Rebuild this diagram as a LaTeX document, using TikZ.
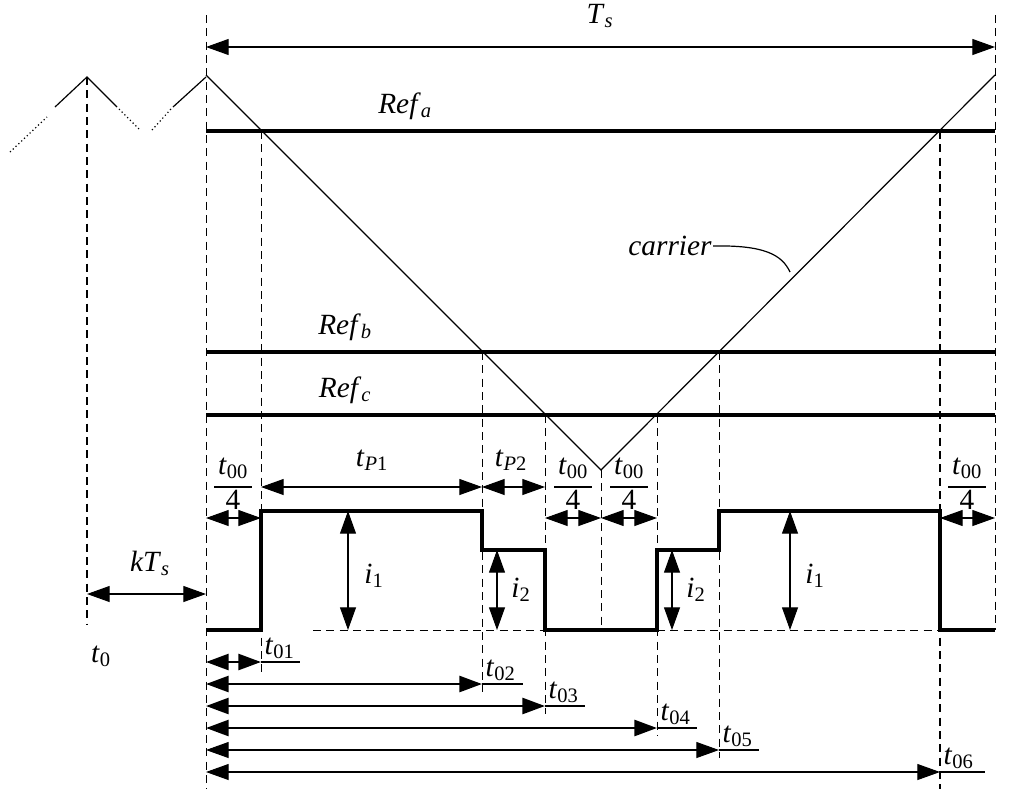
\documentclass[tikz,border=0pt]{standalone}
\usepackage{fontspec}
\setmainfont{Liberation Serif}
\usetikzlibrary{arrows.meta}
\newcommand\tv[2]{\textit{#1}\textsubscript{#2}}
\begin{document}
\begin{tikzpicture}[x={(0.75pt,0)},y={(0,-0.75pt)},
  lab/.style={font=\fontsize{22}{26}\selectfont,inner sep=1pt},
  dsh/.style={dashed,dash pattern=on 6pt off 4pt,line width=0.6pt},
  ref/.style={line width=3pt},
  wave/.style={line width=3.6pt},
  dim/.style={line width=0.8pt,{Triangle[length=17pt,width=12pt]}-{Triangle[length=17pt,width=12pt]}},
  dimb/.style={dim,line width=2pt},
  thin/.style={line width=0.9pt},
  frq/.pic={\node[lab] at (0,-19) {\tv{t}{00}}; \draw[line width=1pt] (-19,0) -- (19,0); \node[lab] at (0,13) {4};}]
\useasboundingbox (0,0) rectangle (1016,789);
% dashed verticals
\draw[dsh] (206,15) -- (206,789);
\draw[dsh] (995,15) -- (995,630);
\draw[dsh,line width=1.4pt] (87,77) -- (87,625);
\draw[dsh] (261,131) -- (261,672);
\draw[dsh] (482,352) -- (482,692);
\draw[dsh] (545,415) -- (545,714);
\draw[dsh] (601,470) -- (601,630);
\draw[dsh] (657,415) -- (657,736);
\draw[dsh] (719,352) -- (719,758);
\draw[dsh,line width=1.4pt] (940,131) -- (940,789);
% carrier
\coordinate (pk) at (206,75); \coordinate (bt) at (601,470); \coordinate (pk2) at (995,75);
\draw[thin] (pk) -- (bt) -- (pk2);
\draw[thin] (55,107) -- (87,77) -- (117,107);
\draw[thin] (173,107) -- (206,77);
\draw[thin,dotted] (10,152) -- (47,117);
\draw[thin,dotted] (119,109) -- (140,130);
\draw[thin,dotted] (152,130) -- (171,109);
% refs
\draw[ref] (206,131) -- (995,131);
\draw[ref] (206,352) -- (995,352);
\draw[ref] (206,415) -- (995,415);
\node[lab] at (405,106) {\tv{Ref}{\textit{a}}};
\node[lab] at (345,327) {\tv{Ref}{\textit{b}}};
\node[lab] at (345,390) {\tv{Ref}{\textit{c}}};
\node[lab] (car) at (670,246) {\textit{carrier}};
\draw[thin] (car.east) .. controls (765,245) and (782,255) .. (790,272);
% Ts
\draw[dim] (206,47) -- (995,47);
\node[lab] at (600,16) {\tv{T}{\textit{s}}};
% waveform
\draw[wave] (206,630) -- (261,630) -- (261,511) -- (482,511) -- (482,550) -- (545,550) -- (545,630) -- (657,630) -- (657,550) -- (719,550) -- (719,511) -- (940,511) -- (940,630) -- (995,630);
\draw[dsh] (313,630) -- (545,630);
\draw[dsh] (657,630) -- (940,630);
% dims top
\draw[dim] (261,487) -- (482,487);
\node[lab] at (372,460) {\tv{t}{\textit{P}1}};
\draw[dim] (482,487) -- (545,487);
\node[lab] at (511,460) {\tv{t}{\textit{P}2}};
\draw[dim] (206,518) -- (261,518);
\draw[dim] (545,518) -- (601,518);
\draw[dim] (601,518) -- (657,518);
\draw[dim] (940,518) -- (995,518);
\pic at (233,487) {frq};
\pic at (573,487) {frq};
\pic at (629,487) {frq};
\pic at (967,487) {frq};
% currents
\draw[dim] (348,511) -- (348,630); \node[lab] at (374,576) {\textit{i}\textsubscript{1}};
\draw[dim] (790,511) -- (790,630); \node[lab] at (815,576) {\textit{i}\textsubscript{1}};
\draw[dim] (497,550) -- (497,630); \node[lab] at (521,590) {\textit{i}\textsubscript{2}};
\draw[dim] (672,550) -- (672,630); \node[lab] at (696,590) {\textit{i}\textsubscript{2}};
% kTs
\draw[dim] (87,594) -- (206,594);
\node[lab] at (150,563) {\textit{kT}\textsubscript{\textit{s}}};
\node[lab] at (101,656) {\tv{t}{0}};
% bottom timings
\draw[dimb] (206,662) -- (261,662); \draw[thin] (261,662) -- (300,662); \node[lab,anchor=south west] at (263,660) {\tv{t}{01}};
\draw[dimb] (206,684) -- (482,684); \draw[thin] (482,684) -- (523,684); \node[lab,anchor=south west] at (484,682) {\tv{t}{02}};
\draw[dimb] (206,706) -- (545,706); \draw[thin] (545,706) -- (585,706); \node[lab,anchor=south west] at (547,704) {\tv{t}{03}};
\draw[dimb] (206,728) -- (657,728); \draw[thin] (657,728) -- (697,728); \node[lab,anchor=south west] at (659,726) {\tv{t}{04}};
\draw[dim] (206,750) -- (719,750); \draw[thin] (719,750) -- (759,750); \node[lab,anchor=south west] at (721,748) {\tv{t}{05}};
\draw[dim] (206,772) -- (940,772); \draw[thin] (940,772) -- (985,772); \node[lab,anchor=south west] at (942,770) {\tv{t}{06}};
\end{tikzpicture}
\end{document}
